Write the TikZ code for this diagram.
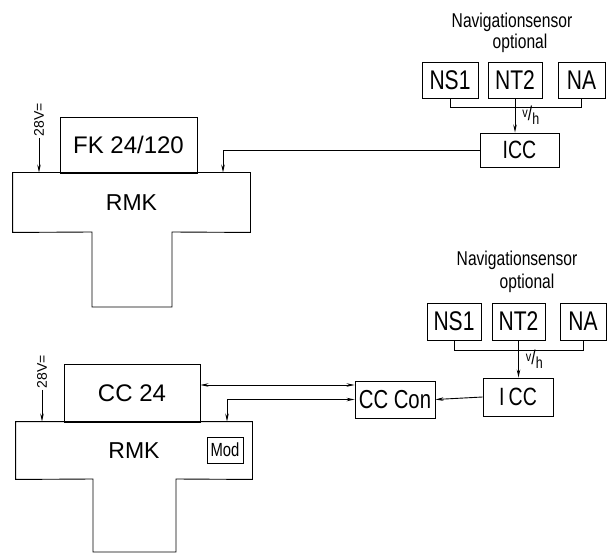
\documentclass[tikz,border=0pt]{standalone}
\usepackage{fontspec}
\setmainfont{Liberation Sans}
\newfontfamily\narrowfont{Liberation Sans}[FakeStretch=0.78]
\usetikzlibrary{arrows.meta}

\begin{document}
\begin{tikzpicture}[x=1pt, y=-1pt, >={Stealth[length=8pt,width=3.5pt]},
  line width=0.9pt,
  box/.style={draw, inner sep=0pt, font=\narrowfont\fontsize{27}{30}\selectfont},
  bar/.style={inner sep=0pt, font=\fontsize{23}{28}\selectfont},
  navtext/.style={font=\narrowfont\fontsize{20}{22}\selectfont},
  vhtext/.style={inner sep=1pt, font=\narrowfont\fontsize{20}{22}\selectfont},
  supply/.style={rotate=90, inner sep=1pt, font=\fontsize{14}{16}\selectfont},
  sig/.style={->}]
  \useasboundingbox (0,0) rectangle (607,553);
  % upper installation: FK 24/120 on RMK
  \node[bar] (rmka) at (131.5,202.5) [minimum width=237pt, minimum height=59pt] {RMK};
  \draw (rmka.north west) -- (rmka.north east) -- (rmka.south east) -- (172,232)
    -- (172,307) -- (92,307) -- (92,232) -- (rmka.south west) -- cycle;
  \node[box, minimum width=137pt, minimum height=56pt,
    font=\fontsize{24}{28}\selectfont] (fk) at (128.5,145) {FK 24/120};
  \node[supply] (vsa) at (39,120) {28V=};
  \draw[sig] (vsa.west) -- (vsa.west |- rmka.north);
  % navigation sensors (upper)
  \node[navtext] (nava) at (512,22) {Navigationsensor};
  \node[navtext] (opta) at (520,43) {optional};
  \node[box, minimum width=56pt, minimum height=36pt] (nsa) at (450,80) {NS1};
  \node[box, minimum width=54pt, minimum height=36pt] (nta) at (515,80) {NT2};
  \node[box, minimum width=47pt, minimum height=36pt] (naa) at (581.5,80) {NA};
  \node[box, minimum width=79pt, minimum height=34pt,
    font=\narrowfont\fontsize{25}{28}\selectfont] (icca) at (519.5,150) {ICC};
  \draw (nsa.south) -- ++(0,9) -| (naa.south);
  \draw[sig] (nta.south) -- (nta.south |- icca.north)
    node[midway, right=6pt, vhtext] (vha)
    {\raisebox{3pt}{\fontsize{14}{16}\selectfont v}/\raisebox{-4pt}{\fontsize{16}{18}\selectfont h}};
  \draw[sig] (icca.west) -| ([xshift=91.5pt]rmka.north);
  % lower installation: CC 24 on RMK
  \node[bar] (rmkb) at (134,450.5) [minimum width=236pt, minimum height=57pt] {RMK};
  \draw (rmkb.north west) -- (rmkb.north east) -- (rmkb.south east) -- (176,479)
    -- (176,552) -- (93,552) -- (93,479) -- (rmkb.south west) -- cycle;
  \node[box, minimum width=136pt, minimum height=58pt,
    font=\fontsize{24}{28}\selectfont] (cc) at (132,393) {CC 24};
  \node[box, minimum width=36pt, minimum height=26pt,
    font=\narrowfont\fontsize{19}{21}\selectfont] (mod) at (225,450) {Mod};
  \node[supply] (vsb) at (42,372) {28V=};
  \draw[sig] (vsb.west) -- (vsb.west |- rmkb.north);
  \node[box, minimum width=80pt, minimum height=37pt,
    font=\narrowfont\fontsize{26}{28}\selectfont] (ccc) at (395,399.5) {CC Con};
  % navigation sensors (lower)
  \node[navtext] (navb) at (517,260) {Navigationsensor};
  \node[navtext] (optb) at (527,283) {optional};
  \node[box, minimum width=54pt, minimum height=37pt] (nsb) at (454,321.5) {NS1};
  \node[box, minimum width=53pt, minimum height=37pt] (ntb) at (518.5,321.5) {NT2};
  \node[box, minimum width=46pt, minimum height=37pt] (nab) at (583,321.5) {NA};
  \node[box, minimum width=70pt, minimum height=38pt,
    font=\narrowfont\fontsize{25}{28}\selectfont] (iccb) at (518,397) {I\,CC};
  \draw (nsb.south) -- ++(0,10) -| (nab.south);
  \draw[sig] (ntb.south) -- (ntb.south |- iccb.north)
    node[midway, right=6pt, vhtext] (vhb)
    {\raisebox{3pt}{\fontsize{14}{16}\selectfont v}/\raisebox{-4pt}{\fontsize{16}{18}\selectfont h}};
  \draw[sig] (iccb.west) -- (ccc.east);
  \draw[<->] ([yshift=8pt]cc.east) -- ([yshift=8pt]cc.east -| ccc.west);
  \draw[<->] (ccc.west) -| ([xshift=93pt]rmkb.north);
\end{tikzpicture}
\end{document}
